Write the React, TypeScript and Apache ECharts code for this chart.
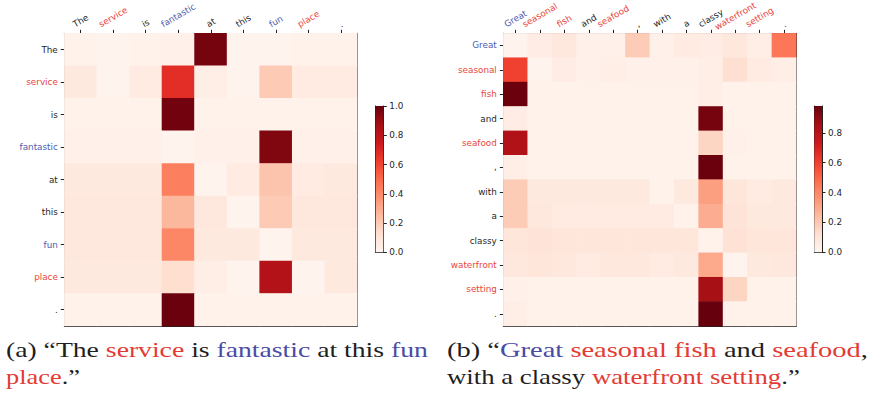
import React, { useEffect, useRef } from "react";
import * as echarts from "echarts";

const W = 870;
const H = 393;

// ---------- data ----------
const wordsA = ["The", "service", "is", "fantastic", "at", "this", "fun", "place", "."];
const kindsA = ["k", "r", "k", "b", "k", "k", "b", "r", "k"];
const attnA = [
  [0.02, 0.01, 0.02, 0.03, 0.97, 0.01, 0.01, 0.02, 0.02],
  [0.07, 0.01, 0.06, 0.67, 0.04, 0.01, 0.2, 0.06, 0.06],
  [0.02, 0.02, 0.02, 0.98, 0.02, 0.02, 0.02, 0.02, 0.02],
  [0.03, 0.03, 0.03, 0.01, 0.03, 0.03, 0.95, 0.03, 0.03],
  [0.07, 0.07, 0.07, 0.43, 0.01, 0.06, 0.22, 0.06, 0.07],
  [0.08, 0.08, 0.08, 0.26, 0.08, 0.01, 0.2, 0.08, 0.08],
  [0.08, 0.08, 0.08, 0.41, 0.07, 0.07, 0.01, 0.07, 0.07],
  [0.07, 0.07, 0.07, 0.13, 0.04, 0.01, 0.83, 0.01, 0.07],
  [0.02, 0.02, 0.02, 0.99, 0.02, 0.02, 0.02, 0.02, 0.02],
];
const vmaxA = 1.0;
const ticksA = [0, 0.2, 0.4, 0.6, 0.8, 1.0];

const wordsB = ["Great", "seasonal", "fish", "and", "seafood", ",", "with", "a", "classy", "waterfront", "setting", "."];
const kindsB = ["b", "r", "r", "k", "r", "k", "k", "k", "k", "r", "r", "k"];
const attnB = [
  [0.01, 0.05, 0.08, 0.03, 0.03, 0.19, 0.03, 0.06, 0.05, 0.08, 0.04, 0.45],
  [0.6, 0.01, 0.05, 0.03, 0.04, 0.03, 0.03, 0.03, 0.04, 0.12, 0.06, 0.04],
  [0.97, 0.02, 0.02, 0.02, 0.02, 0.02, 0.02, 0.02, 0.04, 0.02, 0.02, 0.02],
  [0.05, 0.02, 0.02, 0.02, 0.02, 0.02, 0.02, 0.02, 0.95, 0.02, 0.02, 0.02],
  [0.82, 0.02, 0.02, 0.02, 0.02, 0.02, 0.02, 0.02, 0.16, 0.03, 0.02, 0.02],
  [0.04, 0.02, 0.02, 0.02, 0.02, 0.02, 0.02, 0.02, 0.97, 0.02, 0.02, 0.02],
  [0.19, 0.07, 0.07, 0.07, 0.07, 0.07, 0.02, 0.07, 0.33, 0.09, 0.06, 0.07],
  [0.19, 0.08, 0.06, 0.06, 0.06, 0.06, 0.06, 0.02, 0.29, 0.1, 0.07, 0.07],
  [0.09, 0.1, 0.09, 0.09, 0.09, 0.09, 0.09, 0.09, 0.02, 0.11, 0.09, 0.09],
  [0.08, 0.09, 0.08, 0.06, 0.08, 0.08, 0.06, 0.07, 0.3, 0.01, 0.07, 0.08],
  [0.03, 0.02, 0.02, 0.02, 0.02, 0.02, 0.02, 0.02, 0.85, 0.16, 0.02, 0.02],
  [0.04, 0.02, 0.02, 0.02, 0.02, 0.02, 0.02, 0.02, 0.98, 0.02, 0.02, 0.02],
];
const vmaxB = 0.98;
const ticksB = [0, 0.2, 0.4, 0.6, 0.8];

// captions: [kind, text]
const captionA1 = [["k", "(a) “The "], ["r", "service "], ["k", "is "], ["b", "fantastic "], ["k", "at this "], ["b", "fun"]];
const captionA2 = [["r", "place"], ["k", ".”"]];
const captionB1 = [["k", "(b) “"], ["b", "Great "], ["r", "seasonal fish "], ["k", "and "], ["r", "seafood"], ["k", ","]];
const captionB2 = [["k", "with a classy "], ["r", "waterfront setting"], ["k", ".”"]];

// ---------- style ----------
const REDS = ["#fff5f0", "#fee0d2", "#fcbba1", "#fc9272", "#fb6a4a", "#ef3b2c", "#cb181d", "#a50f15", "#67000d"];
const SPINE = "#222222";
const TXT = "#262626";
const TICK_RED = "#e8453c";
const TICK_BLUE = "#4e5bb0";
const CAP_RED = "#e33b34";
const CAP_BLUE = "#4a4ba6";
const CAP_BLACK = "#1f1f1f";
const TICK_FS = 8.8;
const CAP_FS = 21;
const ROT = Math.PI / 6;

const PLOT_TOP = 33.3;
const PLOT_H = 292.7;

const tickColor = (k: string) => (k === "r" ? TICK_RED : k === "b" ? TICK_BLUE : TXT);

const toCells = (m: number[][]) => {
  const out: number[][] = [];
  m.forEach((row, r) => row.forEach((v, c) => out.push([c, r, v])));
  return out;
};

const spineX = (gridIndex: number, position: string) => ({
  gridIndex,
  type: "value",
  position,
  min: 0,
  max: 1,
  axisLine: { show: true, onZero: false, lineStyle: { color: SPINE, width: 1 } },
  axisTick: { show: false },
  axisLabel: { show: false },
  splitLine: { show: false },
});

const heatX = (gridIndex: number, words: string[]) => ({
  gridIndex,
  type: "category",
  position: "top",
  data: words,
  axisLine: { show: true, onZero: false, lineStyle: { color: SPINE, width: 1 } },
  axisTick: { show: true, alignWithLabel: true, interval: 0, length: 3.5, lineStyle: { color: SPINE } },
  axisLabel: { show: false, interval: 0 },
  splitLine: { show: false },
});

const heatY = (gridIndex: number, words: string[], kinds: string[]) => ({
  gridIndex,
  type: "category",
  position: "left",
  inverse: true,
  data: words,
  axisLine: { show: true, onZero: false, lineStyle: { color: SPINE, width: 1 } },
  axisTick: { show: true, alignWithLabel: true, interval: 0, length: 3.5, lineStyle: { color: SPINE } },
  axisLabel: {
    interval: 0,
    margin: 6.5,
    fontSize: TICK_FS,
    fontFamily: "DejaVu Sans",
    color: (_v: any, i: number) => tickColor(kinds[i]),
  },
  splitLine: { show: false },
});

const cbX = (gridIndex: number) => ({
  gridIndex,
  type: "category",
  position: "bottom",
  data: ["cb"],
  axisLine: { show: true, onZero: false, lineStyle: { color: SPINE, width: 1 } },
  axisTick: { show: false },
  axisLabel: { show: false },
  splitLine: { show: false },
});

const cbY = (gridIndex: number, vmax: number, ticks: number[]) => ({
  gridIndex,
  type: "value",
  position: "right",
  min: 0,
  max: vmax,
  interval: 0.2,
  axisLine: { show: true, onZero: false, lineStyle: { color: SPINE, width: 1 } },
  axisTick: { show: true, length: 3.5, customValues: ticks, lineStyle: { color: SPINE } },
  axisLabel: {
    customValues: ticks,
    formatter: (v: number) => v.toFixed(1),
    fontSize: TICK_FS,
    fontFamily: "DejaVu Sans",
    color: TXT,
    margin: 6,
  },
  splitLine: { show: false },
});

const spineY = (gridIndex: number, position: string) => ({
  gridIndex,
  type: "value",
  position,
  min: 0,
  max: 1,
  axisLine: { show: true, onZero: false, lineStyle: { color: SPINE, width: 1 } },
  axisTick: { show: false },
  axisLabel: { show: false },
  splitLine: { show: false },
});

const gradient = () =>
  new echarts.graphic.LinearGradient(
    0,
    0,
    0,
    1,
    REDS.slice()
      .reverse()
      .map((c, i) => ({ offset: i / (REDS.length - 1), color: c }))
  );

function buildOption(): any {
  return {
    animation: false,
    backgroundColor: "#ffffff",
    grid: [
      { left: 64.3, top: PLOT_TOP, width: 293, height: PLOT_H },
      { left: 503.3, top: PLOT_TOP, width: 293, height: PLOT_H },
      { left: 375.7, top: 106, width: 7.6, height: 146.3 },
      { left: 814.3, top: 106, width: 7.7, height: 146.3 },
    ],
    xAxis: [
      heatX(0, wordsA),
      heatX(1, wordsB),
      spineX(0, "bottom"),
      spineX(1, "bottom"),
      cbX(2),
      spineX(2, "top"),
      cbX(3),
      spineX(3, "top"),
    ],
    yAxis: [
      heatY(0, wordsA, kindsA),
      heatY(1, wordsB, kindsB),
      spineY(0, "right"),
      spineY(1, "right"),
      cbY(2, vmaxA, ticksA),
      spineY(2, "left"),
      cbY(3, vmaxB, ticksB),
      spineY(3, "left"),
    ],
    visualMap: [
      { type: "continuous", show: false, min: 0, max: vmaxA, dimension: 2, seriesIndex: 0, inRange: { color: REDS } },
      { type: "continuous", show: false, min: 0, max: vmaxB, dimension: 2, seriesIndex: 1, inRange: { color: REDS } },
    ],
    series: [
      {
        type: "heatmap",
        xAxisIndex: 0,
        yAxisIndex: 0,
        data: toCells(attnA),
        progressive: 0,
        itemStyle: { borderWidth: 0 },
        emphasis: { disabled: true },
      },
      {
        type: "heatmap",
        xAxisIndex: 1,
        yAxisIndex: 1,
        data: toCells(attnB),
        progressive: 0,
        itemStyle: { borderWidth: 0 },
        emphasis: { disabled: true },
      },
      {
        type: "bar",
        xAxisIndex: 4,
        yAxisIndex: 4,
        data: [vmaxA],
        barWidth: "100%",
        itemStyle: { color: gradient() },
        silent: true,
      },
      {
        type: "bar",
        xAxisIndex: 6,
        yAxisIndex: 6,
        data: [vmaxB],
        barWidth: "100%",
        itemStyle: { color: gradient() },
        silent: true,
      },
    ],
  };
}

export default function App() {
  const ref = useRef<HTMLDivElement>(null);
  useEffect(() => {
    if (!ref.current) return;
    const chart = echarts.init(ref.current, null, { renderer: "svg", width: W, height: H });
    chart.setOption(buildOption());

    const canvas = document.createElement("canvas");
    const ctx = canvas.getContext("2d") as CanvasRenderingContext2D;
    const measure = (t: string, font: string) => {
      ctx.font = font;
      return ctx.measureText(t).width;
    };

    const graphics: any[] = [];
    const tickFont = `${TICK_FS}px "DejaVu Sans"`;
    ([
      [0, wordsA, kindsA],
      [1, wordsB, kindsB],
    ] as [number, string[], string[]][]).forEach(([ai, words, kinds]) => {
      words.forEach((w, i) => {
        const px = chart.convertToPixel({ xAxisIndex: ai } as any, i) as unknown as number;
        const tw = measure(w, tickFont);
        const bboxH = tw * Math.sin(ROT) + TICK_FS * 1.0 * Math.cos(ROT);
        const cy = Math.max(PLOT_TOP - 4.6 - bboxH / 2, bboxH / 2 + 0.8);
        graphics.push({
          type: "text",
          x: px,
          y: cy,
          rotation: ROT,
          silent: true,
          style: {
            text: w,
            fill: tickColor(kinds[i]),
            fontSize: TICK_FS,
            fontFamily: "DejaVu Sans",
            align: "center",
            verticalAlign: "middle",
          },
        });
      });
    });

    const capFont = `${CAP_FS}px "Liberation Serif"`;
    const richBase = { fontSize: CAP_FS, fontFamily: "Liberation Serif" };
    const lines: [string[][], number, number, number][] = [
      [captionA1, 6, 357.3, 422],
      [captionA2, 6, 384, 74],
      [captionB1, 447, 357.3, 421],
      [captionB2, 447, 384, 353],
    ];
    lines.forEach(([segs, x, baseline, target]) => {
      const plain = segs.map((s) => s[1]).join("");
      const natural = measure(plain, capFont);
      graphics.push({
        type: "text",
        x,
        y: baseline - 0.34 * CAP_FS,
        scaleX: target / natural,
        silent: true,
        style: {
          text: segs.map(([k, t]) => `{${k}|${t}}`).join(""),
          fontSize: CAP_FS,
          fontFamily: "Liberation Serif",
          fill: CAP_BLACK,
          align: "left",
          verticalAlign: "middle",
          rich: {
            k: { ...richBase, fill: CAP_BLACK },
            r: { ...richBase, fill: CAP_RED },
            b: { ...richBase, fill: CAP_BLUE },
          },
        },
      });
    });

    chart.setOption({ graphic: graphics });
    return () => chart.dispose();
  }, []);

  return (
    <div
      ref={ref}
      style={{ position: "absolute", left: 0, top: 0, width: W, height: H, background: "#fff" }}
    />
  );
}
